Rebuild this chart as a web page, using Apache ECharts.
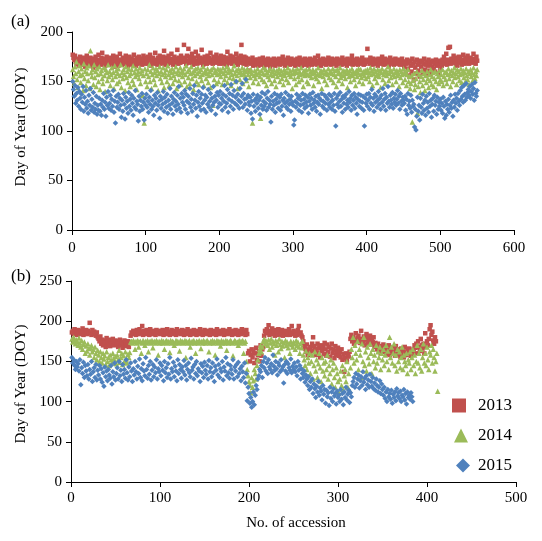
<!DOCTYPE html>
<html>
<head>
<meta charset="utf-8">
<script src="https://cdn.jsdelivr.net/npm/echarts@6/dist/echarts.min.js"></script>
<style>html,body{margin:0;padding:0;background:#fff;}#c{width:542px;height:541px;}</style>
</head>
<body>
<div id="c"></div>
<script>
// Panel (a) DOY values by accession (index+1)
var a2013 = [
177,174,172,176,170,168,173,171,166,169,175,170,167,172,168,174,169,165,171,176,168,172,166,170,174,167,171,169,164,173,170,175,168,166,172,177,169,171,167,174,179,170,168,173,166,171,175,169,172,168,
170,174,167,172,169,176,171,165,173,168,175,170,166,172,178,169,171,167,174,170,168,173,176,169,171,166,172,175,168,170,173,167,171,177,169,172,166,174,170,168,175,171,169,173,167,170,176,172,168,174,
171,169,175,168,172,177,166,173,170,174,168,172,179,169,171,167,174,170,176,168,173,171,169,175,181,167,172,170,174,168,176,171,169,173,178,170,167,172,175,169,173,170,182,168,174,171,169,176,172,170,
174,187,170,172,168,176,171,183,169,173,175,170,178,167,172,174,169,180,171,168,176,172,170,174,169,182,171,167,173,175,170,172,168,176,171,174,169,179,172,170,168,175,171,173,169,177,170,172,174,168,
171,176,169,173,168,175,172,170,174,167,180,171,169,173,176,170,168,172,175,169,173,171,178,170,167,174,172,169,176,187,170,172,168,175,171,174,167,169,173,170,161,172,168,170,174,166,171,169,172,167,
169,172,166,170,173,167,171,168,174,169,166,172,170,167,171,173,168,170,165,172,169,171,167,173,170,166,172,168,171,169,173,167,170,172,168,175,169,171,166,170,172,168,174,169,171,167,170,173,168,171,
168,171,166,172,169,173,167,170,174,168,171,166,172,169,170,173,167,171,168,172,166,170,173,169,171,167,172,168,170,174,169,171,167,176,170,168,172,166,171,169,173,170,168,171,167,172,169,174,170,168,
171,167,173,169,170,172,168,171,166,173,170,168,172,169,171,167,174,170,168,172,169,171,166,173,170,168,172,169,171,176,167,170,172,168,171,169,173,167,170,172,168,171,169,174,170,167,172,168,171,170,
183,170,172,168,174,169,171,167,173,170,168,172,169,171,166,173,170,168,172,169,175,171,167,170,173,168,171,169,172,166,170,174,168,171,169,172,167,170,173,169,171,168,170,172,167,171,169,173,170,168,
165,170,158,168,172,163,169,156,171,166,160,173,168,152,170,164,158,172,167,161,169,155,171,165,170,159,168,173,162,167,170,158,166,172,161,168,157,170,165,171,163,168,160,172,166,169,158,171,167,163,
170,166,172,168,175,169,171,178,167,172,184,170,185,168,173,171,169,176,170,174,168,172,166,171,175,169,173,170,167,172,177,170,168,174,171,169,176,172,168,170,174,171,169,173,178,170,172,168,175,171
];
var a2014 = [
162,155,148,165,158,170,152,144,160,166,156,149,163,157,141,168,153,160,146,164,158,151,166,143,181,159,155,162,147,167,154,160,145,163,157,150,165,142,158,161,153,148,164,156,140,162,159,151,167,155,
160,146,157,164,152,159,143,166,155,161,148,158,163,150,156,167,144,159,153,162,157,141,165,154,160,149,163,156,145,158,162,151,166,147,159,155,163,142,157,160,153,164,148,158,161,136,156,108,163,150,
158,145,162,155,167,150,160,143,157,164,152,159,147,163,156,161,141,158,165,153,160,149,157,164,144,159,155,162,150,166,157,146,161,154,159,163,148,156,160,152,165,143,158,161,151,157,164,147,160,155,
159,163,150,157,166,145,160,154,162,148,158,165,153,159,142,161,156,163,150,158,164,147,160,155,162,151,157,165,146,159,161,153,158,163,149,156,160,144,162,157,126,164,152,159,161,148,157,163,150,158,
162,155,160,147,164,158,152,161,156,165,149,159,163,154,160,146,157,162,153,166,158,150,161,156,143,163,159,152,160,157,164,148,158,162,155,160,151,163,157,145,160,154,162,158,108,149,156,161,153,159,
157,163,148,159,155,113,161,152,158,164,150,157,162,146,159,155,161,152,163,157,148,160,156,162,151,158,145,161,155,159,163,150,157,161,153,158,147,162,156,160,152,159,164,149,157,161,155,158,143,162,
158,153,161,147,159,163,155,150,160,157,164,152,158,145,161,156,159,162,150,157,148,163,156,160,154,158,162,146,159,155,161,153,157,164,150,158,156,161,143,159,155,162,151,158,160,147,157,163,154,159,
160,152,158,163,149,157,161,155,145,162,158,151,159,164,154,157,148,161,156,160,153,158,162,144,159,155,161,150,157,163,156,160,152,158,146,161,155,159,163,150,157,162,154,158,148,160,156,161,153,159,
162,155,159,150,164,157,161,146,158,163,153,160,156,149,162,158,155,161,144,159,163,152,157,160,148,161,156,159,165,151,158,162,154,160,147,157,163,155,159,150,161,156,158,145,162,154,160,157,149,163,
158,152,160,146,157,162,150,155,143,148,156,109,151,158,142,147,153,160,118,145,157,150,139,155,161,146,152,158,141,156,149,160,153,144,157,151,162,147,155,159,145,153,160,150,142,158,155,148,161,152,
157,150,162,146,155,159,152,160,148,157,163,153,158,145,161,156,150,159,164,154,158,147,162,155,160,151,157,163,149,158,161,154,159,150,163,156,152,160,147,158,162,155,159,151,164,157,153,160,156,162
];
var a2015 = [
150,142,135,146,128,138,131,144,125,140,133,122,137,129,145,120,134,127,141,123,130,118,136,126,143,121,132,124,139,119,128,122,135,117,126,121,133,120,127,116,131,124,138,122,129,115,134,126,140,123,
128,136,121,132,125,141,119,130,108,135,124,129,137,122,133,126,114,131,120,138,127,112,134,123,130,118,139,125,132,121,136,128,116,133,124,141,122,130,127,110,135,120,131,125,138,122,129,111,133,126,
137,124,130,119,134,127,141,122,131,125,116,136,128,133,121,139,126,130,113,135,123,132,127,140,120,134,129,124,137,118,131,126,143,122,135,128,117,132,139,125,130,121,136,127,145,123,133,119,138,129,
134,126,141,122,137,130,118,135,128,143,124,132,120,138,127,146,131,123,136,115,129,140,125,133,121,137,128,144,122,131,136,119,134,127,142,124,130,138,121,133,126,145,129,135,117,131,139,124,136,128,
140,127,133,121,137,130,146,124,135,128,142,119,132,138,125,147,130,136,122,141,128,134,150,126,137,131,123,143,129,135,148,124,138,132,127,152,133,121,136,129,126,134,118,130,112,137,125,131,120,133,
128,136,123,131,117,134,126,139,122,130,125,137,128,121,133,140,124,131,127,109,135,122,130,126,138,119,132,128,136,123,129,134,121,137,125,131,116,133,128,139,124,130,122,136,127,132,120,135,129,126,
106,111,130,124,137,128,133,121,135,126,131,119,138,127,132,123,136,129,125,134,118,130,137,126,133,122,139,128,131,124,135,120,129,136,127,133,117,131,138,125,130,123,136,128,134,121,132,127,137,124,
129,135,122,131,126,138,120,105,133,127,136,124,130,139,125,132,119,135,128,134,122,137,127,131,124,140,129,133,121,136,126,131,138,123,134,128,117,132,137,125,130,136,123,129,135,121,105,133,128,137,
125,131,138,122,134,128,142,126,133,120,137,129,135,124,131,140,127,133,122,136,129,143,125,132,138,121,134,128,145,130,124,136,131,127,139,123,133,129,137,126,132,141,128,135,122,138,130,126,134,131,
128,135,121,132,117,138,126,130,123,136,119,131,125,127,104,122,101,115,134,120,126,111,133,124,118,137,128,121,131,116,135,123,129,119,138,125,131,114,127,133,120,136,126,130,117,134,122,129,125,132,
121,128,118,134,125,113,130,116,127,122,132,119,126,136,123,129,115,131,124,137,128,133,121,138,130,126,141,132,144,135,129,146,137,131,148,134,139,142,136,145,133,140,147,137,143,131,149,138,135,141
];
// Panel (b)
var b2013 = [
186,188,184,190,185,187,183,189,186,184,188,185,191,183,187,186,189,184,188,185,198,186,183,189,185,187,184,182,186,180,178,175,181,172,177,170,176,173,168,179,174,171,177,169,175,172,178,170,174,176,
171,175,168,173,177,170,174,167,172,176,169,173,171,175,168,174,182,186,184,188,185,187,183,189,186,184,190,185,187,194,183,188,186,184,189,185,187,183,190,186,184,188,185,187,183,189,186,185,188,184,
187,185,189,183,186,188,184,190,185,187,183,186,189,184,188,185,187,183,190,186,185,188,184,187,189,185,183,188,186,184,190,185,187,183,188,186,184,189,185,187,183,186,188,184,190,185,187,183,186,189,
185,187,184,188,186,183,189,185,187,184,188,186,183,190,185,187,184,188,186,185,189,183,187,185,188,184,186,190,185,187,183,188,186,184,189,185,187,183,186,188,184,190,185,187,186,183,189,184,160,163,
150,158,165,155,162,148,160,167,152,158,163,150,170,157,165,168,182,188,185,190,186,195,183,188,185,191,184,187,182,189,186,184,190,183,187,185,189,182,186,184,188,183,187,185,190,183,186,194,184,188,
185,182,187,183,189,194,184,186,182,180,175,170,166,162,171,158,165,160,168,163,172,180,169,164,158,166,172,161,167,155,170,163,168,159,173,165,157,171,162,168,156,166,172,160,164,154,169,158,163,167,
157,162,155,165,152,159,137,154,160,151,158,156,162,178,183,175,180,172,177,185,174,179,182,176,173,188,178,175,181,170,177,184,172,179,176,182,171,178,174,180,168,173,170,165,172,162,167,160,169,164,
171,162,166,159,168,163,170,158,165,161,167,160,164,157,169,162,158,165,161,156,166,160,163,155,168,161,158,164,159,166,162,157,163,160,165,170,167,172,160,175,168,163,178,170,166,172,160,185,168,175,
170,178,190,195,183,187,176,172,180,175
];
var b2014 = [
178,174,180,176,172,177,175,170,179,173,168,176,165,171,174,160,169,163,172,166,158,167,170,162,165,155,168,160,152,164,158,150,162,155,148,160,153,157,146,162,150,155,145,158,152,148,160,154,150,156,
147,158,152,164,149,155,160,146,157,150,162,153,148,159,155,161,174,175,173,176,174,165,175,173,176,168,174,175,160,173,176,174,170,175,173,176,162,174,175,173,176,167,174,175,173,176,174,158,175,173,
174,176,173,175,165,174,176,173,175,174,161,176,173,175,174,170,173,176,174,175,173,163,176,174,175,173,174,176,155,175,173,174,176,168,173,175,174,176,173,160,175,174,173,176,174,166,175,173,176,174,
173,175,176,174,162,173,175,174,176,173,175,158,174,176,173,175,174,169,176,173,175,174,173,176,164,175,173,174,176,175,173,157,174,176,175,173,174,170,176,173,175,174,176,160,173,175,150,140,132,125,
121,111,130,118,126,140,135,128,145,152,160,165,170,162,168,175,178,172,176,174,170,177,165,173,178,168,175,172,158,176,170,174,162,178,171,166,175,169,173,155,176,170,174,167,172,160,175,171,168,174,
172,165,176,170,174,168,160,172,167,175,158,152,145,163,140,155,148,160,135,150,158,128,145,162,138,152,130,147,160,142,125,155,138,148,132,150,140,158,128,145,135,152,122,140,148,130,118,142,135,125,
111,128,138,120,145,115,132,140,125,150,118,135,114,142,165,155,180,148,170,160,152,175,140,165,158,130,172,150,180,145,162,138,168,155,147,172,160,135,165,150,158,142,170,148,162,155,168,140,160,152,
165,145,158,170,150,163,140,180,155,168,148,160,172,145,158,138,165,150,162,142,155,168,140,158,150,145,160,135,152,148,162,140,155,165,145,158,135,150,170,148,160,142,165,138,155,172,148,160,145,168,
152,140,162,158,170,148,165,155,138,150,160,113
];
var b2015 = [
155,148,152,145,140,150,143,147,138,152,121,142,135,149,130,145,138,132,146,128,140,134,150,125,137,142,130,146,127,139,133,145,128,141,124,136,119,143,131,138,126,140,133,129,145,122,137,131,148,127,
135,142,128,150,132,139,125,146,134,140,129,152,136,127,143,131,148,138,125,141,133,150,137,128,144,135,153,130,141,126,147,138,132,155,140,129,145,134,150,127,139,146,131,143,136,152,128,141,137,148,
132,145,139,126,150,136,142,130,147,134,155,128,141,137,149,131,144,138,126,152,135,146,140,129,143,137,151,133,145,127,140,148,136,131,154,139,143,128,146,135,150,132,141,138,125,147,136,144,130,149,
139,134,145,128,151,137,142,131,148,136,125,144,139,153,133,146,130,141,137,150,127,143,138,155,132,147,136,129,145,140,134,152,128,143,138,146,131,149,135,141,126,144,137,130,148,123,135,101,118,110,
98,105,93,100,112,96,108,120,115,128,132,140,137,145,130,150,142,155,138,148,135,152,143,140,147,136,158,144,139,150,141,133,148,145,137,152,140,143,123,146,138,150,135,147,142,139,153,136,144,140,
148,137,143,132,150,139,145,128,141,135,130,138,124,133,128,120,131,115,125,118,128,110,122,116,105,119,112,125,108,117,113,102,120,109,115,98,114,106,111,95,118,104,112,100,116,107,110,97,113,105,
108,100,115,103,110,96,112,105,118,102,109,114,99,111,106,120,125,130,118,135,122,128,133,117,126,131,120,137,124,129,115,132,121,127,118,134,125,119,130,116,123,114,128,120,112,118,126,110,122,115,
108,118,104,112,100,115,106,110,103,114,98,109,105,112,101,116,107,111,104,113,100,108,106,115,102,110,97,112,105,108,103,111,106,100
];
var years = ['2013', '2014', '2015'];
var xTicksA = [0, 600, 100];
var xTicksB = [0, 500, 100];
var yTicksA = [0, 200, 50];
var yTicksB = [0, 250, 50];

var colors = ['#C0504D', '#9BBB59', '#4F81BD'];
var symbols = ['rect', 'triangle', 'diamond'];
var sizes = [4.5, 5.5, 5.5];
var FONT = '"Liberation Serif", "Times New Roman", serif';

function pts(arr) { return arr.map(function (v, i) { return [i + 1, v]; }); }

function axisCommon(t) {
  return {
    min: t[0], max: t[1], interval: t[2],
    axisLine: { show: true, onZero: false, lineStyle: { color: '#000', width: 1 } },
    axisTick: { show: true, inside: false, length: 5, lineStyle: { color: '#000' } },
    splitLine: { show: false },
    axisLabel: { color: '#000', fontFamily: FONT, fontSize: 15 }
  };
}

var xa = axisCommon(xTicksA); xa.type = 'value'; xa.gridIndex = 0; xa.axisLabel.margin = 11;
var xb = axisCommon(xTicksB); xb.type = 'value'; xb.gridIndex = 1; xb.axisLabel.margin = 9;
var ya = axisCommon(yTicksA); ya.type = 'value'; ya.gridIndex = 0; ya.axisLabel.margin = 9;
var yb = axisCommon(yTicksB); yb.type = 'value'; yb.gridIndex = 1; yb.axisLabel.margin = 9;

var panelA = [a2013, a2014, a2015];
var panelB = [b2013, b2014, b2015];
var series = [];
[panelA, panelB].forEach(function (panel, p) {
  panel.forEach(function (arr, k) {
    series.push({
      name: years[k], type: 'scatter', xAxisIndex: p, yAxisIndex: p,
      data: pts(arr), symbol: symbols[k], symbolSize: sizes[k],
      itemStyle: { color: colors[k], opacity: 1 },
      silent: true, animation: false
    });
  });
});

var legendTops = [397, 427, 457];
var legendLefts = [452, 454, 456];
var legends = years.map(function (y, k) {
  return {
    data: [{ name: y, icon: symbols[k] }],
    left: legendLefts[k], top: legendTops[k], orient: 'vertical',
    itemWidth: 14, itemHeight: 14, selectedMode: false,
    padding: 0,
    textStyle: { fontFamily: FONT, fontSize: 17, color: '#000', padding: [0, 0, 0, 7 - k * 2] }
  };
});

var chart = echarts.init(document.getElementById('c'), null, { renderer: 'canvas' });
chart.setOption({
  backgroundColor: '#fff',
  animation: false,
  grid: [
    { left: 72, top: 32, width: 442, height: 198 },
    { left: 71, top: 281, width: 445, height: 201 }
  ],
  xAxis: [xa, xb],
  yAxis: [ya, yb],
  legend: legends,
  graphic: [
    { type: 'text', left: 11, top: 13, style: { text: '(a)', font: '17px ' + FONT, fill: '#000' } },
    { type: 'text', left: 11, top: 268, style: { text: '(b)', font: '17px ' + FONT, fill: '#000' } },
    { type: 'text', x: 21, y: 127, rotation: Math.PI / 2, style: { text: 'Day of Year (DOY)', font: '15px ' + FONT, fill: '#000', align: 'center', verticalAlign: 'middle' } },
    { type: 'text', x: 21, y: 384, rotation: Math.PI / 2, style: { text: 'Day of Year (DOY)', font: '15px ' + FONT, fill: '#000', align: 'center', verticalAlign: 'middle' } },
    { type: 'text', x: 296, y: 523, style: { text: 'No. of accession', font: '15px ' + FONT, fill: '#000', align: 'center', verticalAlign: 'middle' } }
  ],
  series: series
});
</script>
</body>
</html>
